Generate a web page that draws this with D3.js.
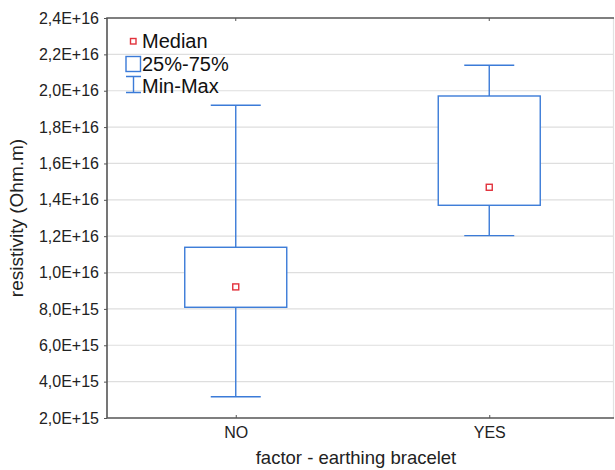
<!DOCTYPE html>
<html>
<head>
<meta charset="utf-8">
<script src="https://cdn.jsdelivr.net/npm/d3@7"></script>
<style>
  html, body { margin: 0; padding: 0; background: #fff; }
  svg { display: block; font-family: "Liberation Sans", Arial, sans-serif; }
</style>
</head>
<body>
<div id="chart"></div>
<script>
const categories = ["NO", "YES"];
const minValues = [3.17e15, 1.203e16];
const q1Values = [8.09e15, 1.37e16];
const medianValues = [9.21e15, 1.469e16];
const q3Values = [1.139e16, 1.971e16];
const maxValues = [1.92e16, 2.14e16];
const yTicks = [2e15, 4e15, 6e15, 8e15, 1e16, 1.2e16, 1.4e16, 1.6e16, 1.8e16, 2e16, 2.2e16, 2.4e16];

const width = 615, height = 470;
const margin = { top: 18, right: 1, bottom: 52, left: 107 };
const blue = "#3b7bd8", red = "#e2323c";

const data = categories.map((c, i) => ({
  label: c, min: minValues[i], q1: q1Values[i], median: medianValues[i], q3: q3Values[i], max: maxValues[i]
}));

const svg = d3.select("#chart").append("svg").attr("width", width).attr("height", height);

const x = d3.scalePoint().domain(categories).range([margin.left + 2, width + 1]).padding(0.5);
const y = d3.scaleLinear().domain([2e15, 2.4e16]).range([height - margin.bottom, margin.top]);

// "2,4E+16" style
function sciFormat(v) {
  const e = Math.floor(Math.log10(v) + 1e-9);
  const m = (v / Math.pow(10, e)).toFixed(1).replace(".", ",");
  return `${m}E+${e}`;
}

const pl = margin.left, pr = width - margin.right, pt = margin.top, pb = height - margin.bottom;

// grid
svg.append("g")
  .selectAll("line")
  .data(yTicks.slice(1, -1))
  .join("line")
  .attr("x1", pl).attr("x2", pr)
  .attr("y1", (d) => y(d)).attr("y2", (d) => y(d))
  .attr("stroke", "#dedede").attr("stroke-width", 1.2);

// frame
svg.append("line").attr("x1", pr - 0.5).attr("x2", pr - 0.5).attr("y1", pt).attr("y2", pb)
  .attr("stroke", "#e2e2e2").attr("stroke-width", 1.2);
svg.append("path")
  .attr("d", `M${pr},${pt}H${pl}V${pb}H${pr}`)
  .attr("fill", "none").attr("stroke", "#555").attr("stroke-width", 1.6);

// y axis
const yAxis = svg.append("g")
  .attr("transform", `translate(${pl},0)`)
  .call(d3.axisLeft(y).tickValues(yTicks).tickSize(3).tickPadding(5).tickFormat(sciFormat));
yAxis.select(".domain").remove();
yAxis.selectAll("line").attr("stroke", "#555");
yAxis.selectAll("text").attr("font-size", 16).attr("fill", "#222").attr("font-family", "Liberation Sans, Arial, sans-serif");

// x axis ticks (inside, top and bottom)
const xAxis = svg.append("g")
  .attr("transform", `translate(0,${pb})`)
  .call(d3.axisBottom(x).tickSize(-3).tickPadding(9));
xAxis.select(".domain").remove();
xAxis.selectAll("line").attr("stroke", "#555");
xAxis.selectAll("text").attr("font-size", 16).attr("fill", "#222").attr("font-family", "Liberation Sans, Arial, sans-serif");
svg.append("g").selectAll("line").data(categories).join("line")
  .attr("x1", (d) => x(d)).attr("x2", (d) => x(d)).attr("y1", pt).attr("y2", pt + 3)
  .attr("stroke", "#555");

// boxes
const boxHalf = 51, capHalf = 25;
const g = svg.append("g").attr("fill", "none").attr("stroke", blue).attr("stroke-width", 1.4);
const groups = g.selectAll("g").data(data).join("g");
groups.append("line").attr("x1", (d) => x(d.label)).attr("x2", (d) => x(d.label))
  .attr("y1", (d) => y(d.max)).attr("y2", (d) => y(d.q3));
groups.append("line").attr("x1", (d) => x(d.label)).attr("x2", (d) => x(d.label))
  .attr("y1", (d) => y(d.q1)).attr("y2", (d) => y(d.min));
groups.append("line").attr("x1", (d) => x(d.label) - capHalf).attr("x2", (d) => x(d.label) + capHalf)
  .attr("y1", (d) => y(d.max)).attr("y2", (d) => y(d.max));
groups.append("line").attr("x1", (d) => x(d.label) - capHalf).attr("x2", (d) => x(d.label) + capHalf)
  .attr("y1", (d) => y(d.min)).attr("y2", (d) => y(d.min));
groups.append("rect")
  .attr("x", (d) => x(d.label) - boxHalf).attr("width", boxHalf * 2)
  .attr("y", (d) => y(d.q3)).attr("height", (d) => y(d.q1) - y(d.q3))
  .attr("fill", "#fff");
groups.append("rect")
  .attr("x", (d) => x(d.label) - 3).attr("y", (d) => y(d.median) - 3)
  .attr("width", 6).attr("height", 6)
  .attr("fill", "#fff").attr("stroke", red).attr("stroke-width", 1.4);

// legend
const lg = svg.append("g");
lg.append("rect").attr("x", 130.5).attr("y", 38.5).attr("width", 5.5).attr("height", 5.5)
  .attr("fill", "none").attr("stroke", red).attr("stroke-width", 1.4);
lg.append("rect").attr("x", 126).attr("y", 56.5).attr("width", 14.5).attr("height", 15)
  .attr("fill", "none").attr("stroke", blue).attr("stroke-width", 1.4);
lg.append("path").attr("d", "M126,76.5H141M133.5,76.5V92.5M126,92.5H141")
  .attr("fill", "none").attr("stroke", blue).attr("stroke-width", 1.4);
lg.selectAll("text").data([["Median", 48], ["25%-75%", 70.5], ["Min-Max", 93]]).join("text")
  .attr("x", 142).attr("y", (d) => d[1]).text((d) => d[0])
  .attr("font-size", 20).attr("fill", "#111");

// axis titles
svg.append("text")
  .attr("transform", `translate(23,${(pt + pb) / 2}) rotate(-90)`)
  .attr("text-anchor", "middle").attr("font-size", 19).attr("fill", "#222")
  .text("resistivity (Ohm.m)");
svg.append("text")
  .attr("x", 356).attr("y", 464)
  .attr("text-anchor", "middle").attr("font-size", 18.5).attr("fill", "#222")
  .text("factor - earthing bracelet");
</script>
</body>
</html>
